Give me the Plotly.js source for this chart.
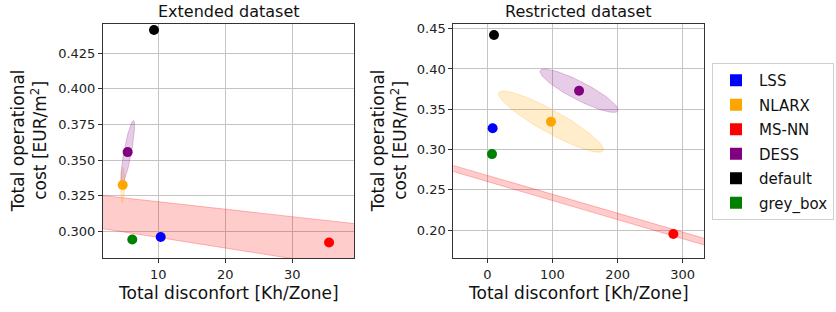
<!DOCTYPE html>
<html>
<head>
<meta charset="utf-8">
<script src="https://cdn.plot.ly/plotly-3.0.1.min.js"></script>
<style>html,body{margin:0;padding:0;background:#fff;}#chart{width:836px;height:312px;}</style>
</head>
<body>
<div id="chart"></div>
<script>
// ---- data ----
const methods = ['LSS', 'NLARX', 'MS-NN', 'DESS', 'default', 'grey_box'];
const methodColors = ['#0000ff', '#ffa500', '#ff0000', '#800080', '#000000', '#008000'];
const methodRGB = ['0,0,255', '255,165,0', '255,0,0', '128,0,128', '0,0,0', '0,128,0'];

// Extended dataset: total discomfort [Kh/Zone] and total operational cost [EUR/m2]
const extDiscomfort = [10.36, 4.69, 35.48, 5.43, 9.36, 6.12];
const extCost = [0.2960, 0.3325, 0.2921, 0.3556, 0.4414, 0.2942];
// Restricted dataset
const resDiscomfort = [8.2, 97.8, 285.7, 140.9, 10.3, 7.2];
const resCost = [0.3264, 0.3346, 0.1950, 0.3730, 0.4422, 0.2943];

// uncertainty ellipses (half-axis vectors in data units), centred on the method points
const extEllipseMethods = ['NLARX', 'DESS'];
const extEllipseMajorX = [0.05, 0.87];
const extEllipseMajorY = [0.0125, 0.0222];
const extEllipseMinorX = [0.30, 0.55];
const extEllipseMinorY = [0.0, -0.0005];

const resEllipseMethods = ['NLARX', 'DESS'];
const resEllipseMajorX = [80.0, 59.5];
const resEllipseMajorY = [-0.0360, -0.0250];
const resEllipseMinorX = [-8.5, -6.5];
const resEllipseMinorY = [-0.0122, -0.0100];

// MS-NN band (upper / lower edges)
const extBandX = [0, 40];
const extBandUpper = [0.3260, 0.3050];
const extBandLower = [0.3031, 0.2733];
const resBandX = [-60, 340];
const resBandUpper = [0.2820, 0.1881];
const resBandLower = [0.2745, 0.1797];

// axis ticks
const extXTicks = [10, 20, 30];
const extYTicks = [0.300, 0.325, 0.350, 0.375, 0.400, 0.425];
const resXTicks = [0, 100, 200, 300];
const resYTicks = [0.20, 0.25, 0.30, 0.35, 0.40, 0.45];

// ---- build ----
function ellipsePath(cx, cy, ax, ay, bx, by) {
  const xs = [], ys = [];
  const n = 80;
  for (let i = 0; i <= n; i++) {
    const t = 2 * Math.PI * i / n;
    xs.push(cx + ax * Math.cos(t) + bx * Math.sin(t));
    ys.push(cy + ay * Math.cos(t) + by * Math.sin(t));
  }
  return {xs, ys};
}

const traces = [];
function addPanel(xa, ya, disc, cost, eM, eAx, eAy, eBx, eBy, bandX, bandU, bandL) {
  // band
  traces.push({
    type: 'scatter', mode: 'lines', xaxis: xa, yaxis: ya, showlegend: false, hoverinfo: 'skip',
    x: [bandX[0], bandX[1], bandX[1], bandX[0], bandX[0]],
    y: [bandU[0], bandU[1], bandL[1], bandL[0], bandU[0]],
    fill: 'toself', fillcolor: 'rgba(255,0,0,0.2)',
    line: {color: 'rgba(255,0,0,0.25)', width: 1}
  });
  // ellipses
  eM.forEach((m, k) => {
    const i = methods.indexOf(m);
    const p = ellipsePath(disc[i], cost[i], eAx[k], eAy[k], eBx[k], eBy[k]);
    traces.push({
      type: 'scatter', mode: 'lines', xaxis: xa, yaxis: ya, showlegend: false, hoverinfo: 'skip',
      x: p.xs, y: p.ys, fill: 'toself',
      fillcolor: 'rgba(' + methodRGB[i] + ',0.2)',
      line: {color: 'rgba(' + methodRGB[i] + ',0.22)', width: 1}
    });
  });
  // points
  methods.forEach((m, i) => {
    traces.push({
      type: 'scatter', mode: 'markers', xaxis: xa, yaxis: ya, showlegend: false, name: m,
      x: [disc[i]], y: [cost[i]],
      marker: {color: methodColors[i], size: 10, line: {width: 0}}, cliponaxis: false
    });
  });
}
addPanel('x', 'y', extDiscomfort, extCost, extEllipseMethods, extEllipseMajorX, extEllipseMajorY, extEllipseMinorX, extEllipseMinorY, extBandX, extBandUpper, extBandLower);
addPanel('x2', 'y2', resDiscomfort, resCost, resEllipseMethods, resEllipseMajorX, resEllipseMajorY, resEllipseMinorX, resEllipseMinorY, resBandX, resBandUpper, resBandLower);

// legend entries (square markers)
methods.forEach((m, i) => {
  traces.push({
    type: 'scatter', mode: 'markers', xaxis: 'x', yaxis: 'y', name: m, legendgroup: m,
    x: [null], y: [null], marker: {symbol: 'square', color: methodColors[i], size: 12}
  });
});

const W = 836, H = 312;
const px = v => v / W, py = v => 1 - v / H;
const tickFont = {family: 'DejaVu Sans, sans-serif', size: 13, color: '#222'};
const labelFont = {family: 'DejaVu Sans, sans-serif', size: 17, color: '#111'};
const titleFont = {family: 'DejaVu Sans, sans-serif', size: 16, color: '#111'};

function axis(domain, range, ticks, fmt, anchor) {
  return {
    domain: domain, range: range, tickvals: ticks, tickformat: fmt, anchor: anchor,
    showgrid: true, gridcolor: '#c4c4c4', gridwidth: 1,
    zeroline: false, showline: true, linecolor: '#333', linewidth: 1, mirror: true,
    ticks: 'outside', ticklen: 4, tickcolor: '#333', tickwidth: 1,
    tickfont: tickFont, automargin: false, fixedrange: true
  };
}

const layout = {
  width: W, height: H,
  margin: {l: 0, r: 0, t: 0, b: 0},
  paper_bgcolor: '#fff', plot_bgcolor: '#fff',
  xaxis: axis([px(103), px(354)], [1.75, 39.2], extXTicks, 'd', 'y'),
  yaxis: axis([py(258.3), py(24.3)], [0.281, 0.4454], extYTicks, '.3f', 'x'),
  xaxis2: axis([px(453.3), px(704.3)], [-52.2, 333.2], resXTicks, 'd', 'y2'),
  yaxis2: axis([py(258.3), py(24.3)], [0.1649, 0.4555], resYTicks, '.2f', 'x2'),
  showlegend: true,
  legend: {
    x: px(712), y: py(63), xanchor: 'left', yanchor: 'top',
    bgcolor: '#fff', bordercolor: '#d0d0d0', borderwidth: 1,
    font: {family: 'DejaVu Sans, sans-serif', size: 15, color: '#111'},
    tracegroupgap: 2, itemwidth: 36
  },
  annotations: [
    {text: 'Extended dataset', x: px(228.5), y: py(12), xref: 'paper', yref: 'paper', showarrow: false, font: titleFont, xanchor: 'center', yanchor: 'middle'},
    {text: 'Restricted dataset', x: px(578.8), y: py(12), xref: 'paper', yref: 'paper', showarrow: false, font: titleFont, xanchor: 'center', yanchor: 'middle'},
    {text: 'Total disconfort [Kh/Zone]', x: px(228.5), y: py(293), xref: 'paper', yref: 'paper', showarrow: false, font: labelFont, xanchor: 'center', yanchor: 'middle'},
    {text: 'Total disconfort [Kh/Zone]', x: px(578.8), y: py(293), xref: 'paper', yref: 'paper', showarrow: false, font: labelFont, xanchor: 'center', yanchor: 'middle'},
    {text: 'Total operational<br>cost [EUR/m<sup>2</sup>]', x: px(29), y: py(141.3), xref: 'paper', yref: 'paper', showarrow: false, font: labelFont, textangle: -90, xanchor: 'center', yanchor: 'middle'},
    {text: 'Total operational<br>cost [EUR/m<sup>2</sup>]', x: px(389), y: py(141.3), xref: 'paper', yref: 'paper', showarrow: false, font: labelFont, textangle: -90, xanchor: 'center', yanchor: 'middle'}
  ]
};

Plotly.newPlot('chart', traces, layout, {staticPlot: true, displayModeBar: false});
</script>
</body>
</html>
